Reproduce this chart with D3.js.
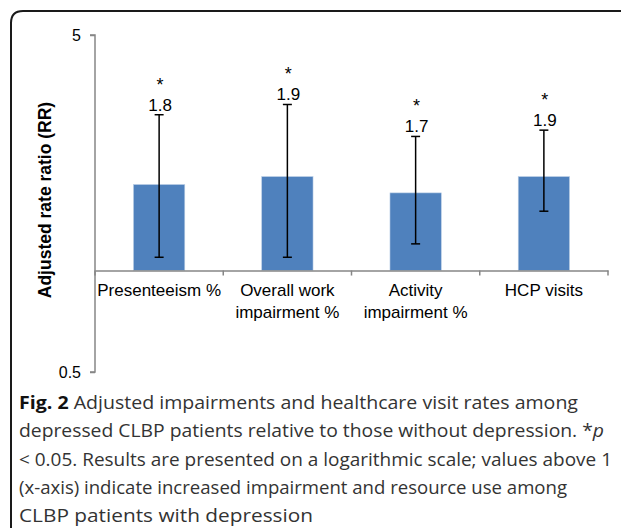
<!DOCTYPE html>
<html>
<head>
<meta charset="utf-8">
<script src="https://cdn.jsdelivr.net/npm/d3@7"></script>
<style>
  body { margin: 0; background: #fff; }
  svg { display: block; }
</style>
</head>
<body>
<div id="chart"></div>
<script>
// values (log scale)
const categories = ["Presenteeism %", "Overall work impairment %", "Activity impairment %", "HCP visits"];
const labelLines = [["Presenteeism %"], ["Overall work", "impairment %"], ["Activity", "impairment %"], ["HCP visits"]];
const rr = [1.8, 1.9, 1.7, 1.9];
const ciLow = [1.095, 1.095, 1.2, 1.5];
const ciHigh = [2.9, 3.11, 2.5, 2.61];
const yTicks = [0.5, 5];
// caption pieces: [text, style]
const captionLines = [
    [["Fig. 2", "bold"], [" Adjusted impairments and healthcare visit rates among", ""]],
    [["depressed CLBP patients relative to those without depression. *", ""], ["p", "italic"]],
    [["< 0.05. Results are presented on a logarithmic scale; values above 1", ""]],
    [["(x-axis) indicate increased impairment and resource use among", ""]],
    [["CLBP patients with depression", ""]]
];

const W = 621, H = 528;
const svg = d3.select("#chart").append("svg")
    .attr("width", W)
    .attr("height", H);

// rounded frame round the figure
svg.append("path")
    .attr("d", `M11,${H + 5} L11,23 Q11,11 23,11 L${W + 5},11`)
    .attr("fill", "none")
    .attr("stroke", "#1a1a1a")
    .attr("stroke-width", 2);

const x = d3.scaleBand().domain(categories).range([95, 608]).paddingInner(0).paddingOuter(0);
const y = d3.scaleLog().domain([0.5, 5]).range([372, 35]);

const data = categories.map((c, i) => ({ cat: c, v: rr[i], lo: ciLow[i], hi: ciHigh[i], lines: labelLines[i] }));

// y axis
const yAxis = svg.append("g")
    .attr("transform", "translate(95,0)")
    .call(d3.axisLeft(y).tickValues(yTicks).tickFormat(d3.format("")).tickSize(5).tickPadding(9));
yAxis.select(".domain").attr("stroke", "#868686").attr("stroke-width", 1.5)
    .attr("d", `M-5,${y(5)}H0V${y(0.5)}H-5`);
yAxis.selectAll(".tick line").attr("stroke", "#868686").attr("stroke-width", 1.5);
yAxis.selectAll(".tick text")
    .attr("font-family", "Liberation Sans, Arial, sans-serif")
    .attr("font-size", 16)
    .attr("fill", "#000");

// bars
const bw = x.bandwidth() * 0.4;
svg.selectAll(".bar")
    .data(data)
    .enter()
    .append("rect")
    .attr("class", "bar")
    .attr("x", d => x(d.cat) + (x.bandwidth() - bw) / 2)
    .attr("width", bw)
    .attr("y", d => y(d.v))
    .attr("height", d => y(1) - y(d.v))
    .attr("fill", "#4f81bd")
    .attr("stroke", "#b9cde5")
    .attr("stroke-width", 0.6);

// x axis at RR = 1
const xAxis = svg.append("g")
    .attr("transform", `translate(0,${y(1)})`)
    .call(d3.axisBottom(x).tickSize(0).tickFormat(""));
xAxis.select(".domain").attr("stroke", "#868686").attr("stroke-width", 1.5);
const bounds = categories.map(c => x(c)).concat([x.range()[1]]);
xAxis.selectAll(".bound")
    .data(bounds)
    .enter()
    .append("line")
    .attr("x1", d => d).attr("x2", d => d)
    .attr("y1", 0).attr("y2", 5)
    .attr("stroke", "#868686")
    .attr("stroke-width", 1.5);

// error bars
const cx = d => x(d.cat) + x.bandwidth() / 2;
const err = svg.selectAll(".err").data(data).enter().append("g").attr("class", "err")
    .attr("stroke", "#000").attr("stroke-width", 1.5);
err.append("line").attr("x1", cx).attr("x2", cx).attr("y1", d => y(d.lo)).attr("y2", d => y(d.hi));
err.append("line").attr("x1", d => cx(d) - 4.5).attr("x2", d => cx(d) + 4.5).attr("y1", d => y(d.lo)).attr("y2", d => y(d.lo));
err.append("line").attr("x1", d => cx(d) - 4.5).attr("x2", d => cx(d) + 4.5).attr("y1", d => y(d.hi)).attr("y2", d => y(d.hi));

// value labels and significance stars
svg.selectAll(".val").data(data).enter().append("text")
    .attr("x", d => cx(d) + 1)
    .attr("y", d => y(d.hi) - 4)
    .attr("text-anchor", "middle")
    .attr("font-family", "Liberation Sans, Arial, sans-serif")
    .attr("font-size", 17)
    .text(d => d3.format(".1f")(d.v));
svg.selectAll(".star").data(data).enter().append("text")
    .attr("x", d => cx(d) + 1)
    .attr("y", d => y(d.hi) - 24)
    .attr("text-anchor", "middle")
    .attr("font-family", "Liberation Sans, Arial, sans-serif")
    .attr("font-size", 18)
    .text("*");

// category labels
const catText = svg.selectAll(".cat").data(data).enter().append("text")
    .attr("text-anchor", "middle")
    .attr("font-family", "Liberation Sans, Arial, sans-serif")
    .attr("font-size", 17)
    .attr("y", 296);
catText.selectAll("tspan")
    .data(d => d.lines.map(l => ({ l, c: cx(d) })))
    .enter()
    .append("tspan")
    .attr("x", d => d.c)
    .attr("dy", (d, i) => i === 0 ? 0 : 22)
    .text(d => d.l);

// y axis title
svg.append("text")
    .attr("transform", "translate(51,200) rotate(-90)")
    .attr("text-anchor", "middle")
    .attr("font-family", "Liberation Sans, Arial, sans-serif")
    .attr("font-weight", "bold")
    .attr("font-size", 17.5)
    .text("Adjusted rate ratio (RR)");

// caption
const capWidths = [559, 585, 593, 548, 294];
captionLines.forEach((ln, i) => {
    const t = svg.append("text")
        .attr("x", 19)
        .attr("y", 409 + i * 28.3)
        .attr("font-family", "Open Sans, Noto Sans, sans-serif")
        .attr("font-size", 18.5)
        .attr("fill", "#333")
        .attr("textLength", capWidths[i])
        .attr("lengthAdjust", "spacingAndGlyphs");
    ln.forEach(([s, st]) => {
        const sp = t.append("tspan").text(s);
        if (st === "bold") sp.attr("font-weight", "bold").attr("fill", "#111");
        if (st === "italic") sp.attr("font-style", "italic");
    });
});
</script>
</body>
</html>
